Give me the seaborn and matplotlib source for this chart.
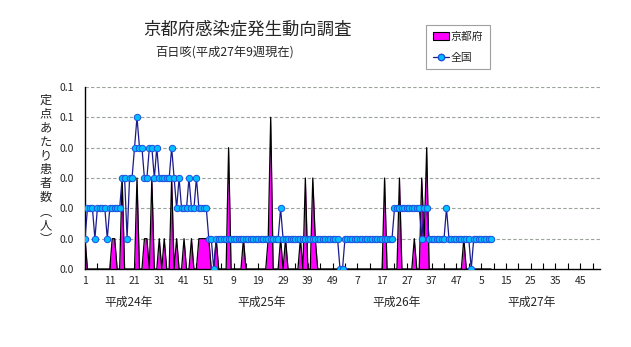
import numpy as np
import pandas as pd
import matplotlib
matplotlib.use("Agg")
import matplotlib.pyplot as plt
import seaborn as sns
from matplotlib.patches import Patch
from matplotlib.lines import Line2D

sns.set_theme(style="white")
plt.rcParams["font.family"] = ["Noto Sans CJK JP", "DejaVu Sans"]

# ---------------- data (per sentinel, weekly) ----------------
national_h24 = [0.01, 0.02, 0.02, 0.02, 0.01, 0.02, 0.02, 0.02, 0.02, 0.01,
                0.02, 0.02, 0.02, 0.02, 0.02, 0.03, 0.03, 0.01, 0.03, 0.03,
                0.04, 0.05, 0.04, 0.04, 0.03, 0.03, 0.04, 0.04, 0.03, 0.04,
                0.03, 0.03, 0.03, 0.03, 0.03, 0.04, 0.03, 0.02, 0.03, 0.02,
                0.02, 0.02, 0.03, 0.02, 0.02, 0.03, 0.02, 0.02, 0.02, 0.02,
                0.01, 0.01]
national_h25 = [0.00, 0.01, 0.01, 0.01, 0.01, 0.01, 0.01, 0.01, 0.01, 0.01,
                0.01, 0.01, 0.01, 0.01, 0.01, 0.01, 0.01, 0.01, 0.01, 0.01,
                0.01, 0.01, 0.01, 0.01, 0.01, 0.01, 0.01, 0.02, 0.01, 0.01,
                0.01, 0.01, 0.01, 0.01, 0.01, 0.01, 0.01, 0.01, 0.01, 0.01,
                0.01, 0.01, 0.01, 0.01, 0.01, 0.01, 0.01, 0.01, 0.01, 0.01,
                0.01, 0.00]
national_h26 = [0.00, 0.01, 0.01, 0.01, 0.01, 0.01, 0.01, 0.01, 0.01, 0.01,
                0.01, 0.01, 0.01, 0.01, 0.01, 0.01, 0.01, 0.01, 0.01, 0.01,
                0.01, 0.02, 0.02, 0.02, 0.02, 0.02, 0.02, 0.02, 0.02, 0.02,
                0.02, 0.02, 0.01, 0.02, 0.02, 0.01, 0.01, 0.01, 0.01, 0.01,
                0.01, 0.01, 0.02, 0.01, 0.01, 0.01, 0.01, 0.01, 0.01, 0.01,
                0.01, 0.01]
national_h27 = [0.00, 0.01, 0.01, 0.01, 0.01, 0.01, 0.01, 0.01, 0.01]

kyoto_h24 = [0.01, 0.00, 0.00, 0.00, 0.00, 0.00, 0.00, 0.00, 0.00, 0.00,
             0.00, 0.01, 0.01, 0.00, 0.00, 0.03, 0.00, 0.00, 0.00, 0.00,
             0.00, 0.03, 0.00, 0.00, 0.01, 0.01, 0.00, 0.03, 0.00, 0.00,
             0.01, 0.00, 0.01, 0.00, 0.00, 0.03, 0.00, 0.01, 0.00, 0.00,
             0.01, 0.00, 0.00, 0.01, 0.00, 0.00, 0.01, 0.01, 0.01, 0.01,
             0.01, 0.00]
kyoto_h25 = [0.00, 0.01, 0.00, 0.00, 0.00, 0.00, 0.04, 0.00, 0.00, 0.00,
             0.00, 0.00, 0.01, 0.00, 0.00, 0.00, 0.00, 0.00, 0.00, 0.00,
             0.00, 0.00, 0.01, 0.05, 0.00, 0.00, 0.00, 0.01, 0.00, 0.01,
             0.00, 0.00, 0.00, 0.00, 0.00, 0.01, 0.00, 0.03, 0.00, 0.00,
             0.03, 0.01, 0.00, 0.00, 0.00, 0.00, 0.00, 0.00, 0.00, 0.00,
             0.00, 0.00]
kyoto_h26 = [0.00, 0.00, 0.00, 0.00, 0.00, 0.00, 0.00, 0.00, 0.00, 0.00,
             0.00, 0.00, 0.00, 0.00, 0.00, 0.00, 0.00, 0.03, 0.00, 0.00,
             0.00, 0.00, 0.00, 0.03, 0.00, 0.00, 0.00, 0.00, 0.00, 0.01,
             0.00, 0.00, 0.03, 0.01, 0.04, 0.00, 0.00, 0.00, 0.00, 0.00,
             0.00, 0.00, 0.00, 0.00, 0.00, 0.00, 0.00, 0.00, 0.00, 0.01,
             0.00, 0.00]
kyoto_h27 = [0.00, 0.00, 0.00, 0.00, 0.00, 0.00, 0.00, 0.00, 0.00]

weeks_per_year = [52, 52, 52, 53]   # H24, H25, H26, H27
year_labels = ["平成24年", "平成25年", "平成26年", "平成27年"]
xtick_labels = ["1", "11", "21", "31", "41", "51", "9", "19", "29", "39", "49",
                "7", "17", "27", "37", "47", "5", "15", "25", "35", "45"]
ytick_values = [0.00, 0.01, 0.02, 0.03, 0.04, 0.05, 0.06]
ytick_labels = ["0.0", "0.0", "0.0", "0.0", "0.0", "0.1", "0.1"]

title = "京都府感染症発生動向調査"
subtitle = "百日咳(平成27年9週現在)"
ylabel_chars = ["定", "点", "あ", "た", "り", "患", "者", "数", "︵", "人", "︶"]
legend_labels = ["京都府", "全国"]

# ---------------- build frame ----------------
national = national_h24 + national_h25 + national_h26 + national_h27
kyoto = kyoto_h24 + kyoto_h25 + kyoto_h26 + kyoto_h27
n_total = sum(weeks_per_year)
df = pd.DataFrame({"idx": np.arange(len(national)),
                   "national": national, "kyoto": kyoto})

W, H = 631, 347
fig = plt.figure(figsize=(W / 100, H / 100), dpi=100)
ax = fig.add_axes([85 / W, 1 - 269 / H, 515 / W, 182 / H])

MAG = "#FF00FF"
# Kyoto area
ax.fill_between(df["idx"], 0, df["kyoto"], color=MAG, linewidth=0, zorder=2)
sns.lineplot(data=df, x="idx", y="kyoto", ax=ax, color="black",
             linewidth=0.9, zorder=3, legend=False)
# National line
sns.lineplot(data=df, x="idx", y="national", ax=ax, color="#1a1a8c",
             linewidth=0.9, marker="o", markersize=4.6,
             markerfacecolor="#00BFFF", markeredgecolor="#1E50E0",
             markeredgewidth=0.7, zorder=4, legend=False)

ax.set_xlim(0, n_total - 1)
ax.set_ylim(0, 0.06)
ax.set_yticks(ytick_values)
ax.set_yticklabels(ytick_labels)
ax.set_xticks(np.arange(0, n_total, 10))
ax.set_xticklabels(xtick_labels)
ax.set_xticks(np.arange(0, n_total, 5), minor=True)
ax.tick_params(axis="both", which="both", direction="in", length=4,
               width=0.8, color="black", labelsize=7.5, pad=5,
               bottom=True, left=True)
ax.tick_params(axis="y", length=0, pad=8)
ax.set_xlabel("")
ax.set_ylabel("")
for s in ["top", "right"]:
    ax.spines[s].set_visible(False)
for s in ["left", "bottom"]:
    ax.spines[s].set_color("black")
    ax.spines[s].set_linewidth(1.0)
ax.grid(False)
for v in ytick_values[1:]:
    ax.axhline(v, color="#9aa39a", linewidth=0.8, linestyle=(0, (3, 2)),
               zorder=1)
ax.set_facecolor("white")

# year labels (below the week numbers)
year_label_x = [129, 262, 397, 532]
for xp, lab in zip(year_label_x, year_labels):
    fig.text(xp / W, 1 - 302 / H, lab, ha="center", va="center",
             fontsize=8.5)

# titles
fig.text(247 / W, 1 - 29 / H, title, ha="center", va="center", fontsize=12.5)
fig.text(225 / W, 1 - 52 / H, subtitle, ha="center", va="center", fontsize=8.8)

# vertical y label
fig.text(46 / W, 1 - 170 / H, "\n".join(ylabel_chars), ha="center",
         va="center", fontsize=8.8, linespacing=1.1)

# legend
handles = [Patch(facecolor=MAG, edgecolor="black", linewidth=0.8),
           Line2D([0], [0], color="#1a1a8c", linewidth=0.9, marker="o",
                  markersize=4.6, markerfacecolor="#00BFFF",
                  markeredgecolor="#1E50E0")]
leg = fig.legend(handles, legend_labels, loc="upper left",
                 bbox_to_anchor=(426 / W, 1 - 25 / H), fontsize=7.8,
                 frameon=True, fancybox=False, framealpha=1,
                 edgecolor="#a0a0a0", borderpad=0.6, handlelength=1.5,
                 handletextpad=0.2, labelspacing=1.0, borderaxespad=0)
leg.get_frame().set_linewidth(0.8)

fig.savefig("out.png", dpi=100, facecolor="white")
